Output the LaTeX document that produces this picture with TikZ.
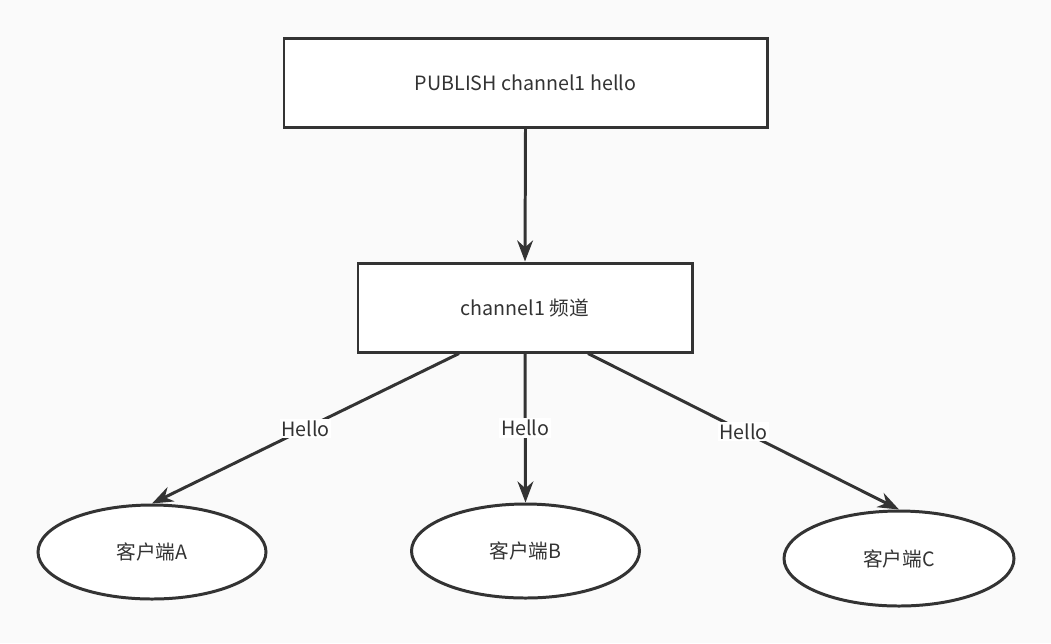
\documentclass[tikz,border=0pt]{standalone}
\usepackage{fontspec}
\setmainfont{Noto Sans CJK SC}
\usepackage{xcolor}
\usepackage{tikz}
\usetikzlibrary{arrows.meta,shapes.geometric}
\definecolor{ink}{HTML}{333333}
\definecolor{paper}{HTML}{FAFAFA}
\begin{document}
\begin{tikzpicture}[every node/.style={font=\fontsize{11.2}{13}\selectfont,text=ink},box/.style={draw=ink,fill=white,line width=1.7pt,minimum width=9.66cm,minimum height=1.78cm},client/.style={ellipse,draw=ink,fill=white,line width=1.7pt,minimum width=4.56cm,minimum height=1.88cm},lbl/.style={fill=white,inner sep=1pt},link/.style={-{Stealth[length=12pt,width=9pt]},line width=1.7pt,draw=ink}]
\fill[paper] (0,0) rectangle (21.02,-12.86);
\useasboundingbox (0,0) rectangle (21.02,-12.86);
\node[box] (n0) at (10.51,-1.65) {PUBLISH channel1 hello};
\node[box,minimum width=6.68cm] (n1) at (10.50,-6.15) {channel1 频道};
\draw[link] (n0.south) -- (n1.north);
\node[client] (c0) at (3.04,-11.04) {客户端A};
\node[client] (c1) at (10.51,-11.02) {客户端B};
\node[client,minimum width=4.6cm,minimum height=1.9cm] (c2) at (17.98,-11.17) {客户端C};
\draw[link] ([xshift=-1.32cm]n1.south) -- node[lbl] {Hello} (c0.north);
\draw[link] (n1.south) -- node[lbl] {Hello} (c1.north);
\draw[link] ([xshift=1.26cm]n1.south) -- node[lbl] {Hello} (c2.north);
\end{tikzpicture}
\end{document}
